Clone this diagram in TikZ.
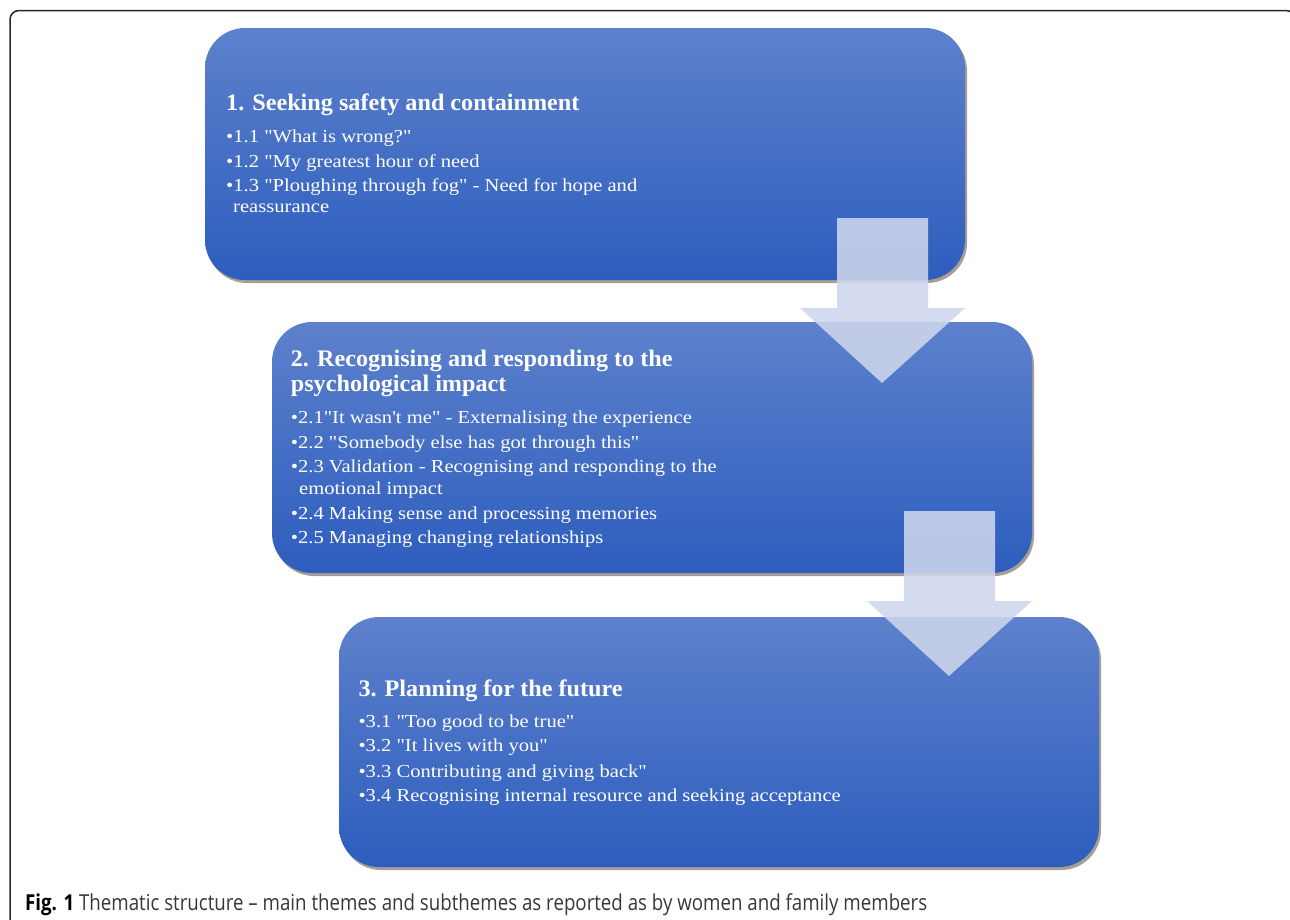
\documentclass[tikz,border=0pt]{standalone}
\usepackage{fontspec}
\setmainfont{Liberation Serif}[Ligatures=TeXOff]
\newfontfamily\ttlfont[FakeStretch=1.02, Ligatures=TeXOff]{Liberation Serif}
\newfontfamily\itmfont[FakeStretch=1.125, Ligatures=TeXOff]{Liberation Serif}
\newfontfamily\capfont[FakeStretch=0.85]{Open Sans}
\usetikzlibrary{shadows}
\definecolor{boxtop}{RGB}{93,129,204}
\definecolor{boxbot}{RGB}{45,93,190}
\definecolor{arrowfill}{RGB}{206,214,236}
\definecolor{captext}{RGB}{55,55,55}
\tikzset{
  themebox/.style={rounded corners=40pt, top color=boxtop, bottom color=boxbot, draw=none,
    drop shadow={shadow xshift=2pt, shadow yshift=-3pt, opacity=0.45, fill=black!70!brown}},
  flowarrow/.style={fill=arrowfill, fill opacity=0.88, draw=none},
  ttl/.style={anchor=base west, inner sep=0pt, text=white, font=\ttlfont\fontsize{23.7}{26}\selectfont\bfseries},
  itm/.style={anchor=base west, inner sep=0pt, text=white, font=\itmfont\fontsize{18.3}{22}\selectfont},
}
\begin{document}
\begin{tikzpicture}[x=1pt,y=-1pt]
\useasboundingbox (0,0) rectangle (1290,919);
\begin{scope}
\clip (0,0) rectangle (1290,919);
\draw[line width=1.5pt, black!85, rounded corners=9pt] (10,10.5) rectangle (1295,960);
\end{scope}
% boxes
\path[themebox] (205,28) rectangle (965,280);
\coordinate (b1nw) at (205,28);
\path[themebox] (272,322) rectangle (1032,573);
\coordinate (b2nw) at (272,322);
% arrow 1
\coordinate (a1tip) at (882,383);
\fill[flowarrow] (837,218) -- (928,218) -- (928,308) -- (965,308) -- (a1tip) -- (800,308) -- (837,308) -- cycle;
\path[themebox] (339,617) rectangle (1099,867);
% arrow 2
\coordinate (a2tip) at (949,676);
\fill[flowarrow] (904,511) -- (995,511) -- (995,601) -- (1032,601) -- (a2tip) -- (867,601) -- (904,601) -- cycle;
% box 1 text
\node[ttl] (t1) at (226,110.7) {1. Seeking safety and containment};
\node[itm] (t11) at (226,142.7) {•1.1 "What is wrong?"};
\node[itm] (t12) at (226,167) {•1.2 "My greatest hour of need};
\node[itm] (t13) at (226,191.7) {•1.3 "Ploughing through fog" - Need for hope and};
\node[itm] (t13b) at (233,212.3) {reassurance};
% box 2 text
\node[ttl] (t2) at (290.7,366.7) {2. Recognising and responding to the};
\node[ttl] (t2b) at (290.7,391.7) {psychological impact};
\node[itm] (t21) at (290.7,423.3) {•2.1"It wasn't me" - Externalising the experience};
\node[itm] (t22) at (290.7,448.3) {•2.2 "Somebody else has got through this"};
\node[itm] (t23) at (290.7,472.7) {•2.3 Validation - Recognising and responding to the};
\node[itm] (t23b) at (299,494) {emotional impact};
\node[itm] (t24) at (290.7,519) {•2.4 Making sense and processing memories};
\node[itm] (t25) at (290.7,543.3) {•2.5 Managing changing relationships};
% box 3 text
\node[ttl] (t3) at (358.3,696) {3. Planning for the future};
\node[itm] (t31) at (358.3,727.3) {•3.1 "Too good to be true"};
\node[itm] (t32) at (358.3,751.7) {•3.2 "It lives with you"};
\node[itm] (t33) at (358.3,777.3) {•3.3 Contributing and giving back"};
\node[itm] (t34) at (358.3,801.7) {•3.4 Recognising internal resource and seeking acceptance};
% caption
\node[anchor=base west, inner sep=0pt, text=captext, font=\capfont\fontsize{22}{26}\selectfont] (cap) at (25,910)
  {\textcolor{black}{\textbf{Fig. 1}} Thematic structure – main themes and subthemes as reported as by women and family members};
\end{tikzpicture}
\end{document}
